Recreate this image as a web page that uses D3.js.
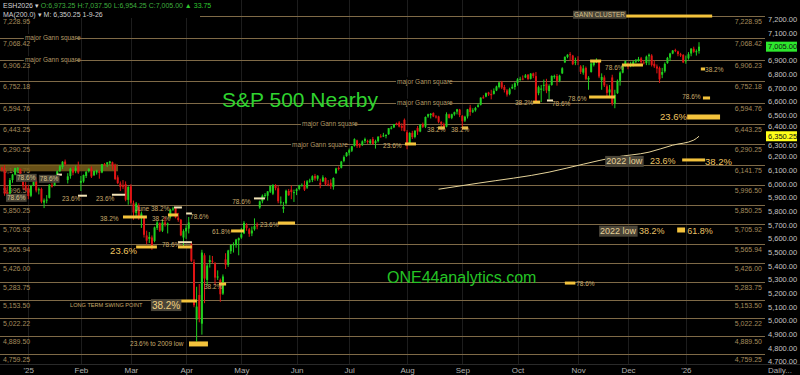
<!DOCTYPE html>
<html>
<head>
<meta charset="utf-8">
<script src="https://cdn.jsdelivr.net/npm/d3@7"></script>
<style>
html, body { margin: 0; padding: 0; background: #000; }
svg { display: block; }
text { font-family: "Liberation Sans", Arial, sans-serif; }
</style>
</head>
<body>
<div id="chart"></div>
<script>
// ---- daily OHLC, Dec 17 2024 .. Jan 9 2026 (one block per month) ----
var open = [
  6120,6105,5940,5915,6030,6070,6110,6112,6035,5990,
  5965,5915,5990,6025,5955,5965,5865,5885,5900,5995,5990,6045,6095,6125,6165,6030,6060,6110,6100,6130,
  6010,6020,6060,6095,6115,6065,6085,6095,6085,6145,6145,6155,6160,6140,6050,6005,5990,6000,5885,
  5985,5860,5790,5840,5755,5760,5625,5600,5610,5585,5680,5715,5660,5720,5700,5760,5815,5825,5755,5740,5610,
  5655,5675,5560,5430,5010,5190,4980,5480,5300,5430,5440,5420,5320,5300,5200,5450,5410,5510,5560,5555,5590,
  5610,5640,5700,5670,5640,5670,5700,5830,5875,5915,5915,5945,5930,5990,5970,5870,5820,5860,5950,5960,5940,
  5950,5965,5990,5995,5975,6025,6030,6060,6040,6010,6020,6045,6000,6010,5980,6080,6118,6120,6170,6205,
  6230,6245,6280,6320,6285,6285,6315,6315,6300,6330,6300,6315,6350,6355,6355,6365,6410,6415,6445,6450,6425,6470,
  6380,6290,6375,6345,6410,6385,6440,6420,6495,6505,6520,6495,6495,6455,6440,6420,6510,6485,6510,6530,6545,
  6500,6465,6495,6560,6530,6540,6565,6580,6635,6640,6670,6660,6660,6685,6710,6745,6710,6685,6660,6700,6710,
  6740,6770,6772,6780,6800,6770,6810,6790,6665,6690,6720,6735,6680,6725,6790,6790,6755,6810,6890,6930,6950,6940,6895,
  6910,6860,6815,6850,6765,6820,6870,6900,6895,6760,6780,6715,6670,6780,6590,6665,6755,6815,6865,
  6880,6865,6875,6900,6900,6920,6890,6885,6935,6940,6880,6860,6850,6800,6825,6885,6925,6955,6980,6970,6950,6945,
  6900,6920,6955,6990,6965,6973.25
];
var high = [
  6128,6140,5985,6045,6075,6120,6125,6115,6040,6015,
  5995,5995,6065,6050,5975,5975,5895,5920,6000,6010,6055,6100,6140,6168,6180,6080,6120,6125,6135,6165,
  6060,6070,6095,6115,6130,6100,6105,6100,6148,6155,6162,6170,6165,6150,6065,6020,6030,6020,5985,
  6000,5880,5870,5860,5800,5765,5660,5650,5625,5690,5730,5720,5740,5760,5720,5820,5835,5830,5790,5745,5670,
  5700,5760,5575,5450,5250,5270,5520,5495,5420,5480,5475,5430,5370,5310,5340,5495,5520,5560,5575,5600,5610,
  5680,5730,5715,5680,5690,5750,5720,5880,5925,5935,5950,5990,6000,6000,5990,5910,5870,5960,5965,5990,5960,
  5970,5995,6005,6025,6030,6040,6065,6075,6065,6040,6065,6050,6030,6035,6050,6120,6130,6170,6210,6235,
  6260,6280,6335,6325,6300,6320,6340,6325,6330,6345,6325,6350,6365,6375,6365,6410,6425,6440,6450,6460,6445,6480,
  6395,6380,6390,6395,6425,6440,6450,6495,6515,6520,6525,6505,6500,6460,6450,6525,6515,6515,6530,6550,6550,
  6505,6500,6550,6580,6555,6565,6590,6635,6650,6670,6675,6690,6700,6720,6745,6755,6725,6695,6705,6730,6745,
  6775,6785,6795,6805,6805,6812,6815,6820,6720,6725,6765,6770,6730,6795,6800,6805,6800,6855,6935,6950,6965,6945,6925,
  6935,6870,6870,6860,6790,6890,6900,6920,6900,6810,6795,6730,6725,6800,6690,6765,6825,6870,6905,
  6890,6895,6905,6915,6930,6930,6905,6940,6955,6950,6905,6875,6860,6850,6890,6930,6960,6980,6990,6975,6960,6950,
  6940,6965,6995,7005,6985,7037.5
];
var low = [
  6092,5915,5900,5890,6010,6065,6085,6025,5960,5950,
  5890,5905,5985,5940,5925,5860,5825,5860,5895,5975,5985,6030,6090,6110,6135,6005,6040,6065,6080,6075,
  5950,6010,6045,6085,6045,6060,6070,6040,6080,6135,6125,6140,6105,6030,6000,5950,5965,5875,5850,
  5850,5740,5760,5740,5680,5610,5560,5570,5520,5575,5665,5650,5650,5690,5640,5750,5805,5750,5725,5620,5540,
  5600,5640,5430,5100,4850,4990,4900,5130,5260,5390,5420,5260,5300,5140,5190,5380,5395,5490,5500,5535,5480,
  5600,5635,5660,5615,5620,5660,5670,5820,5860,5900,5880,5935,5920,5955,5860,5850,5790,5850,5915,5890,5870,
  5920,5955,5985,5950,5965,6010,6015,6025,6025,5970,6015,5990,5985,5965,5960,6075,6100,6115,6160,6200,
  6210,6235,6275,6265,6265,6280,6300,6295,6290,6290,6260,6305,6340,6345,6335,6360,6400,6410,6430,6415,6390,6385,
  6255,6285,6330,6335,6360,6380,6410,6410,6485,6480,6490,6480,6445,6395,6405,6415,6480,6475,6500,6510,6490,
  6400,6455,6480,6500,6520,6530,6560,6575,6625,6635,6645,6620,6655,6680,6700,6695,6670,6640,6650,6695,6690,
  6720,6755,6760,6775,6760,6765,6775,6590,6650,6600,6680,6665,6620,6720,6770,6720,6745,6805,6885,6920,6900,6870,6870,
  6870,6805,6800,6760,6690,6815,6860,6885,6775,6690,6710,6640,6640,6575,6555,6660,6720,6810,6860,
  6840,6855,6860,6885,6895,6880,6875,6870,6870,6860,6850,6810,6740,6775,6815,6880,6900,6950,6965,6935,6930,6885,
  6880,6910,6935,6960,6940,6954.25
];
var close = [
  6105,5930,5920,6030,6070,6118,6115,6045,5985,5960,
  5913,5987,6020,5954,5963,5872,5881,5887,5995,5982,6042,6094,6131,6164,6146,6057,6113,6084,6116,6085,
  6024,6067,6091,6113,6056,6096,6098,6082,6145,6144,6159,6166,6137,6038,6008,5980,5981,5886,5980,
  5864,5793,5858,5754,5785,5630,5587,5614,5537,5684,5720,5660,5720,5708,5712,5813,5822,5757,5738,5626,5657,
  5680,5720,5440,5115,5105,5020,5500,5310,5405,5445,5437,5317,5325,5195,5325,5410,5515,5555,5560,5595,5605,
  5634,5717,5680,5637,5661,5694,5690,5874,5916,5922,5947,5988,5994,5971,5875,5872,5832,5952,5919,5942,5942,
  5962,5990,5992,5960,6020,6026,6058,6042,6062,5995,6050,5998,5995,5985,6045,6115,6117,6165,6198,6230,
  6248,6277,6329,6280,6276,6313,6330,6310,6319,6294,6314,6347,6347,6356,6359,6409,6413,6439,6440,6421,6412,6389,
  6283,6374,6344,6390,6385,6434,6419,6491,6511,6514,6495,6494,6456,6441,6415,6512,6484,6511,6526,6547,6505,
  6460,6493,6547,6527,6540,6557,6577,6632,6634,6665,6656,6650,6682,6714,6744,6706,6688,6655,6694,6711,6738,
  6766,6770,6771,6795,6769,6808,6790,6607,6709,6699,6726,6685,6719,6791,6790,6755,6793,6847,6930,6946,6946,6877,6895,
  6902,6821,6846,6770,6778,6882,6896,6901,6787,6784,6722,6667,6692,6588,6653,6755,6816,6863,6899,
  6858,6874,6895,6902,6915,6892,6885,6932,6946,6872,6861,6845,6766,6820,6879,6923,6955,6977,6975,6951,6941,6890,
  6905,6950,6990,6968,6972,7005
];

// 200-day moving average (bar index, value)
var maIdx = [166, 181, 208, 221, 233, 246, 255, 263, 265];
var maVal = [5963, 6007, 6088, 6146, 6197, 6234, 6285, 6322, 6350];

// month ticks on the time axis (bar index of first session)
var tickLabels = ["'25", "Feb", "Mar", "Apr", "May", "Jun", "Jul", "Aug", "Sep", "Oct", "Nov", "Dec", "'26"];
var tickIndex = [10, 30, 49, 70, 91, 112, 132, 154, 175, 196, 219, 238, 260];

// price axis ticks
var priceTicks = d3.range(4700, 7201, 100);

// Gann square levels
var gannLevels = [7228.95, 7068.42, 6906.23, 6752.18, 6594.76, 6443.25, 6290.25, 6141.75, 5996.50,
  5850.25, 5705.92, 5565.94, 5426.00, 5283.75, 5153.50, 5022.22, 4889.50, 4759.25];

// "major Gann square" tags: [bar index, level]
var gannTags = [[8.7, 7068.42], [8.7, 6906.23], [150.2, 6752.18], [150.2, 6594.76], [114.1, 6443.25], [110.3, 6290.25]];

// highlighted zone Dec-Feb: [from bar, to bar, low, high]
var zone = [-1, 44.1, 6094, 6145];

// fib marker bars: [from bar, to bar, price, kind]
var fibBars = [
  [236.5, 270.0, 7228.95, "y"], [223.6, 227.8, 6900, "y"], [223.2, 233.1, 6637, "y"],
  [235.7, 243.7, 6871, "y"], [201.9, 204.6, 6600, "y"], [207.2, 209.5, 6608, "w"],
  [266.5, 269.2, 6630, "y"], [265.7, 267.3, 6842, "y"], [260.5, 273.0, 6491, "Y"],
  [258.6, 267.3, 6177, "y"], [256.7, 259.7, 5665, "Y"], [214.0, 218.0, 5277, "y"],
  [153.2, 157.4, 6294, "y"], [165.8, 168.4, 6411, "y"], [174.9, 177.2, 6411, "y"],
  [104.9, 111.4, 5716, "y"], [95.8, 100.0, 5892, "w"], [87.1, 92.0, 5658, "y"],
  [82.5, 85.2, 5270, "y"], [66.2, 74.1, 5146, "y"], [71.1, 78.3, 4832, "Y"],
  [51.0, 58.9, 5541, "y"], [66.9, 72.2, 5541, "y"], [66.9, 72.2, 5572, "w"],
  [46.0, 55.1, 5760, "y"], [63.1, 66.9, 5775, "y"], [65.4, 68.4, 5826, "w"],
  [70.0, 72.2, 5782, "w"], [20.9, 22.8, 6066, "w"], [28.9, 32.3, 5912, "w"],
  [41.8, 46.8, 5919, "w"]
];

// fib labels: [text, bar index, price, kind]
var fibLabels = [
  ["78.6%", 5.7, 6045, "g"], ["78.6%", 14.4, 6038, "g"], ["78.6%", 1.9, 5899, "g"],
  ["23.6%", 22.8, 5892, "s"], ["23.6%", 35.7, 5892, "s"], ["June 38.2%", 50.6, 5818, "s"],
  ["38.2%", 37.3, 5746, "s"], ["38.2%", 57.0, 5746, "s"], ["78.6%", 71.5, 5760, "s"],
  ["78.6%", 60.8, 5555, "s"], ["78.6%", 87.5, 5870, "s"], ["61.8%", 79.8, 5650, "s"],
  ["38.2%", 76.8, 5248, "s"], ["23.6%", 98.1, 5701, "s"], ["LONG TERM SWING POINT", 25.9, 5117, "t"],
  ["23.6% to 2009 low", 48.7, 4832, "s"], ["23.6%", 144.9, 6279, "s"], ["38.2%", 161.6, 6396, "s"],
  ["38.2%", 170.7, 6396, "s"], ["38.2%", 195.0, 6593, "s"], ["78.6%", 209.1, 6586, "s"],
  ["78.6%", 215.2, 6623, "s"], ["78.6%", 229.3, 6849, "s"], ["78.6%", 258.6, 6637, "s"],
  ["38.2%", 267.3, 6835, "s"], ["78.6%", 218.3, 5270, "s"],
  ["23.6%", 41.1, 5511, "b"], ["38.2%", 57.0, 5117, "B"], ["23.6%", 250.2, 6491, "b"],
  ["2022 low", 229.7, 6168, "M"], ["23.6%", 246.4, 6168, "m"], ["38.2%", 267.3, 6168, "b"],
  ["2022 low", 227.4, 5658, "M"], ["38.2%", 242.2, 5658, "m"], ["61.8%", 260.5, 5658, "m"],
  ["GANN CLUSTER", 217.5, 7237, "g"]
];

var lastPrice = 7005.00, maLast = 6350.25;

//---------------------------------------------------------------
var W = 800, H = 375, plotR = 765, plotB = 364;
var up = '#1fd01f', down = '#e01414', gannColor = '#7f6a47', tagColor = '#b49a66';

var svg = d3.select('#chart').append('svg').attr('width', W).attr('height', H);
svg.append('rect').attr('width', W).attr('height', H).attr('fill', '#000');

var x = d3.scaleLinear().domain([0, close.length - 1]).range([2, 699]);
var y = d3.scaleLinear().domain([4700, 7200]).range([362, 20]);

// month grid
svg.append('g').selectAll('line').data(tickIndex).enter().append('line')
  .attr('x1', function (d) { return Math.round(x(d)) + 0.5; })
  .attr('x2', function (d) { return Math.round(x(d)) + 0.5; })
  .attr('y1', 0).attr('y2', plotB)
  .attr('stroke', '#1d1d1d').attr('stroke-width', 1);

// gann lines
svg.append('g').selectAll('line').data(gannLevels).enter().append('line')
  .attr('x1', 0).attr('x2', plotR)
  .attr('y1', function (d) { return Math.round(y(d)) + 0.5; })
  .attr('y2', function (d) { return Math.round(y(d)) + 0.5; })
  .attr('stroke', gannColor).attr('stroke-width', 1);

// level labels, left and right
var lvl = svg.append('g').attr('font-size', '7px').attr('fill', '#a48b5c');
lvl.selectAll('text.l').data(gannLevels).enter().append('text').attr('class', 'l')
  .attr('x', 3).attr('y', function (d) { return y(d) + 8; })
  .text(d3.format(',.2f'));
lvl.selectAll('text.r').data(gannLevels).enter().append('text').attr('class', 'r')
  .attr('x', 762).attr('y', function (d) { return y(d) + 8; }).attr('text-anchor', 'end')
  .text(d3.format(',.2f'));

// zone
svg.append('rect')
  .attr('x', x(zone[0])).attr('width', x(zone[1]) - x(zone[0]))
  .attr('y', y(zone[3])).attr('height', y(zone[2]) - y(zone[3]))
  .attr('fill', '#7a5f1c').attr('opacity', 0.85);

// major gann square tags
var tags = svg.append('g').selectAll('g').data(gannTags).enter().append('g');
tags.append('rect')
  .attr('x', function (d) { return x(d[0]) - 1; }).attr('y', function (d) { return y(d[1]) - 4; })
  .attr('width', 52).attr('height', 7).attr('fill', '#000');
tags.append('text')
  .attr('x', function (d) { return x(d[0]); }).attr('y', function (d) { return y(d[1]) + 2.3; })
  .attr('font-size', '6.5px').attr('fill', tagColor).text('major Gann square');

// MA(200)
var maLine = d3.line()
  .x(function (d, i) { return x(maIdx[i]); })
  .y(function (d) { return y(d); })
  .curve(d3.curveMonotoneX);
svg.append('path').attr('d', maLine(maVal)).attr('fill', 'none')
  .attr('stroke', '#e6d49a').attr('stroke-width', 1);

// candles
var idx = d3.range(close.length);
var candles = svg.append('g').selectAll('g').data(idx).enter().append('g');
candles.append('line')
  .attr('x1', function (i) { return x(i); }).attr('x2', function (i) { return x(i); })
  .attr('y1', function (i) { return y(high[i]); }).attr('y2', function (i) { return y(low[i]); })
  .attr('stroke', function (i) { return close[i] >= open[i] ? up : down; }).attr('stroke-width', 1);
candles.append('rect')
  .attr('x', function (i) { return x(i) - 1; }).attr('width', 2)
  .attr('y', function (i) { return y(Math.max(open[i], close[i])); })
  .attr('height', function (i) { return Math.max(1, Math.abs(y(open[i]) - y(close[i]))); })
  .attr('fill', function (i) { return close[i] >= open[i] ? up : down; });

// fib bars
svg.append('g').selectAll('rect').data(fibBars).enter().append('rect')
  .attr('x', function (d) { return x(d[0]); })
  .attr('width', function (d) { return x(d[1]) - x(d[0]); })
  .attr('y', function (d) { return y(d[2]) - (d[3] === 'Y' ? 2.5 : 1.5); })
  .attr('height', function (d) { return d[3] === 'Y' ? 5 : (d[3] === 'w' ? 2 : 3); })
  .attr('fill', function (d) { return d[3] === 'w' ? '#f3e4b8' : '#f4c33c'; });

// fib labels
var sizeOf = { s: 6.5, t: 5.6, g: 6.5, b: 9.5, B: 10, m: 9, M: 9 };
var colorOf = { s: '#c9ab6c', t: '#c9ab6c', g: '#d8c08a', b: '#f0c560', B: '#f0d080', m: '#e8c266', M: '#e6cf95' };
var lab = svg.append('g').selectAll('g').data(fibLabels).enter().append('g');
lab.append('text')
  .attr('x', function (d) { return x(d[1]); })
  .attr('y', function (d) { return y(d[2]) + sizeOf[d[3]] * 0.36; })
  .attr('font-size', function (d) { return sizeOf[d[3]] + 'px'; })
  .attr('fill', function (d) { return colorOf[d[3]]; })
  .text(function (d) { return d[0]; });
lab.each(function (d) {
  if (d[3] === 'g' || d[3] === 'B' || d[3] === 'M') {
    var g = d3.select(this), b = g.select('text').node().getBBox();
    g.insert('rect', 'text').attr('x', b.x - 1).attr('y', b.y - 0.5)
      .attr('width', b.width + 2).attr('height', b.height + 1)
      .attr('fill', '#4a4538');
  }
});

// watermark texts
svg.append('text').attr('x', 222).attr('y', 107).attr('font-size', '21px')
  .attr('fill', '#2fd32f').text('S&P 500 Nearby');
svg.append('text').attr('x', 387).attr('y', 283).attr('font-size', '16px')
  .attr('fill', '#25c425').text('ONE44analytics.com');

// header
svg.append('rect').attr('x', 0).attr('y', 0).attr('width', 200).attr('height', 18).attr('fill', '#000');
var h1 = svg.append('text').attr('x', 3).attr('y', 8).attr('font-size', '7px');
h1.append('tspan').attr('fill', '#d4d4d4').text('ESH2026 \u25BE ');
h1.append('tspan').attr('fill', '#3fae3f').text('O:6,973.25 H:7,037.50 L:6,954.25 C:7,005.00 ');
h1.append('tspan').attr('fill', '#2fc82f').text('\u25B2 33.75');
svg.append('text').attr('x', 3).attr('y', 17).attr('font-size', '7px').attr('fill', '#cfcfcf')
  .text('MA(200.0) \u25BE M: 6,350.25 1-9-26');

// price axis (labels hidden by a flag are dropped, neighbours nudged aside)
var flags = [lastPrice, maLast];
var yAxis = d3.axisRight(y).tickValues(priceTicks.filter(function (t) {
    return flags.every(function (f) { return Math.abs(y(t) - y(f)) > 4; });
  }))
  .tickFormat(d3.format(',.2f')).tickSize(0).tickPadding(3);
var ya = svg.append('g').attr('transform', 'translate(' + plotR + ',0)').call(yAxis);
ya.select('.domain').remove();
ya.selectAll('.tick').attr('transform', function (t) {
  var p = y(t);
  flags.forEach(function (f) {
    var dd = p - y(f);
    if (Math.abs(dd) < 9.5) p = y(f) + (dd < 0 ? -9.5 : 9.5);
  });
  return 'translate(0,' + p + ')';
});
ya.selectAll('text').attr('fill', '#c4c4c4').attr('font-size', '7.5px')
  .attr('font-family', '"Liberation Sans", Arial, sans-serif');

// price flags
function flag(v, bg) {
  svg.append('rect').attr('x', 766).attr('y', y(v) - 5).attr('width', 31).attr('height', 10).attr('fill', bg);
  svg.append('text').attr('x', 768).attr('y', y(v) + 2.8).attr('font-size', '7.5px').attr('fill', '#101010')
    .text(d3.format(',.2f')(v));
}
flag(lastPrice, '#2de82d');
flag(maLast, '#ffff1a');

// time axis
svg.append('line').attr('x1', 0).attr('x2', W).attr('y1', plotB + 0.5).attr('y2', plotB + 0.5)
  .attr('stroke', '#2a2a2a');
var xAxis = d3.axisBottom(x).tickValues(tickIndex)
  .tickFormat(function (d, i) { return tickLabels[i]; }).tickSize(0).tickPadding(3);
var xa = svg.append('g').attr('transform', 'translate(0,' + plotB + ')').call(xAxis);
xa.select('.domain').remove();
xa.selectAll('text').attr('fill', '#b0b0b0').attr('font-size', '8px')
  .attr('font-family', '"Liberation Sans", Arial, sans-serif');
svg.append('text').attr('x', 768).attr('y', 373).attr('font-size', '8px').attr('fill', '#b0b0b0').text('Daily...');
</script>
</body>
</html>
